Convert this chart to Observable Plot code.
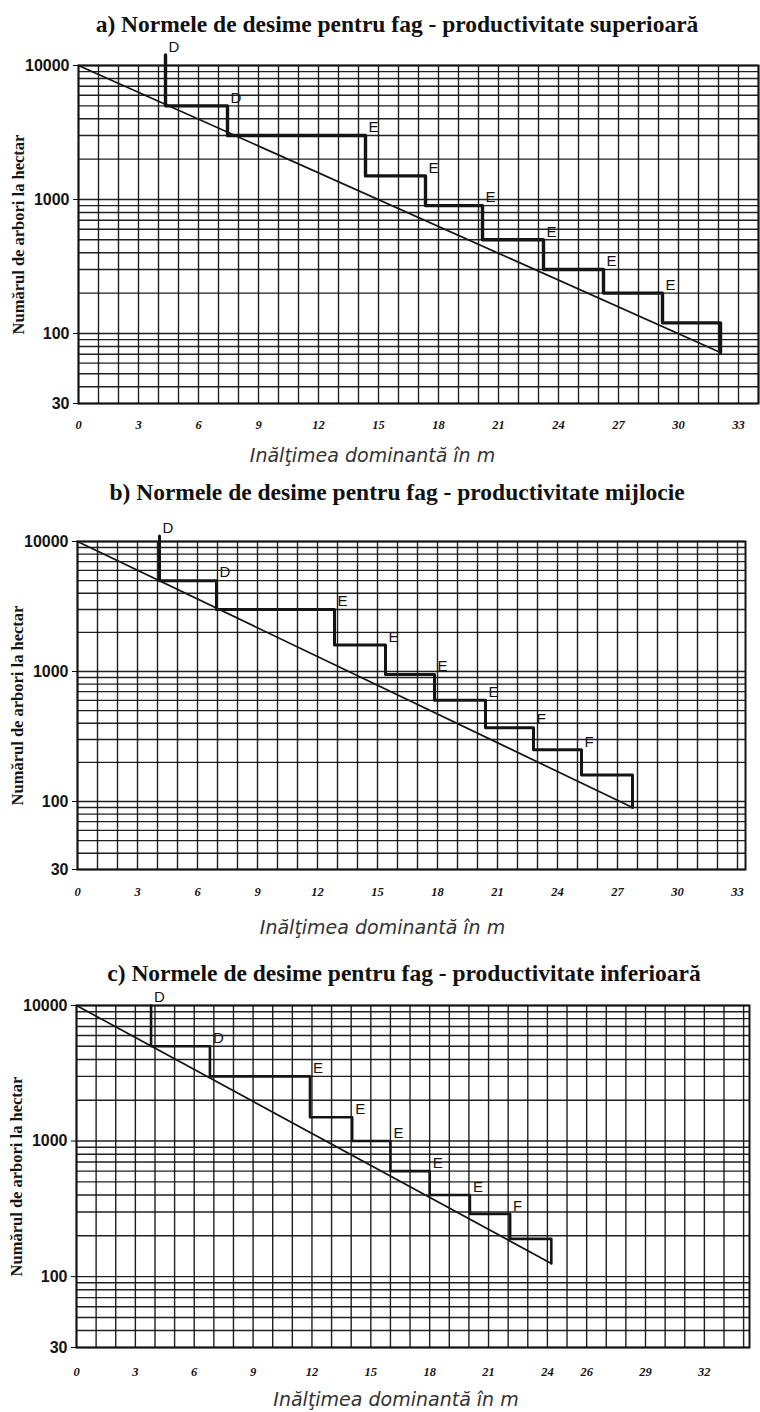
<!DOCTYPE html>
<html><head><meta charset="utf-8">
<script src="https://cdn.jsdelivr.net/npm/d3@7"></script>
<script src="https://cdn.jsdelivr.net/npm/@observablehq/plot@0.6"></script>
<style>
body{margin:0;background:#fff;width:760px;height:1412px;position:relative;overflow:hidden}
.title{position:absolute;width:760px;text-align:center;font-family:"Liberation Serif","Times New Roman",serif;font-weight:bold;font-size:23.5px;line-height:24px;z-index:2;color:#111;white-space:nowrap}
.panel{position:absolute;left:0;z-index:1}
</style></head><body>
<script>
// ---- shared text ----
const yLabel = "Numărul de arbori la hectar";
const xLabel = "Inălţimea dominantă în m";
const yTicks = [30, 100, 1000, 10000];

// ---- panel a: productivitate superioară ----
const titleA = "a) Normele de desime pentru fag - productivitate superioară";
const heightsA = [4.35, 7.45, 14.35, 17.35, 20.2, 23.25, 26.25, 29.2, 32.1];
const densityA = [5000, 3000, 1500, 900, 500, 300, 200, 120, 72];
const topA = 12000;
const lettersA = ["D", "D", "E", "E", "E", "E", "E", "E"];
const xTicksA = [0, 3, 6, 9, 12, 15, 18, 21, 24, 27, 30, 33];

// ---- panel b: productivitate mijlocie ----
const titleB = "b) Normele de desime pentru fag - productivitate mijlocie";
const heightsB = [4.1, 6.95, 12.85, 15.4, 17.85, 20.4, 22.8, 25.2, 27.75];
const densityB = [5000, 3000, 1600, 950, 600, 370, 250, 160, 90];
const topB = 11000;
const lettersB = ["D", "D", "E", "E", "E", "E", "E", "F"];
const xTicksB = [0, 3, 6, 9, 12, 15, 18, 21, 24, 27, 30, 33];

// ---- panel c: productivitate inferioară ----
const titleC = "c) Normele de desime pentru fag - productivitate inferioară";
const heightsC = [3.8, 6.8, 11.9, 14.05, 16.0, 18.0, 20.05, 22.1, 24.2];
const densityC = [5000, 3000, 1500, 1000, 600, 400, 290, 190, 125];
const topC = 10000;
const lettersC = ["D", "D", "E", "E", "E", "E", "E", "F"];
const xTicksC = [0, 3, 6, 9, 12, 15, 18, 21, 24, 26, 29, 32];

const ink = "#141414";
const narrow = "'Liberation Sans Narrow', 'Liberation Sans', sans-serif";

function makePanel(cfg) {
  const {heights, density, top, letters, xTicks} = cfg;
  const steps = [{h: heights[0], n: top}, ...heights.map((h, i) => ({h, n: density[i]}))];
  const labels = letters.map((t, i) => i === 0
    ? {h: heights[0], n: top, t}
    : {h: heights[i], n: density[i - 1], t});
  const diag = [{h: 0, n: 10000}, {h: heights[heights.length - 1], n: density[density.length - 1]}];
  const yGrid = d3.scaleLog().domain([30, 10000]).ticks();
  const xGrid = d3.range(0, Math.floor(cfg.xmax) + 1);
  const plot = Plot.plot({
    width: 760,
    height: cfg.marginTop + cfg.plotH + cfg.marginBottom,
    marginTop: cfg.marginTop, marginBottom: cfg.marginBottom,
    marginLeft: cfg.marginLeft, marginRight: cfg.marginRight,
    style: {background: "transparent", overflow: "visible"},
    x: {domain: [0, cfg.xmax]},
    y: {type: "log", domain: [30, 10000]},
    marks: [
      Plot.gridX(xGrid, {stroke: ink, strokeOpacity: 0.95, strokeWidth: 1.4}),
      Plot.gridY(yGrid, {stroke: ink, strokeOpacity: 0.95, strokeWidth: 1.4}),
      Plot.frame({stroke: ink, strokeWidth: 2}),
      Plot.axisY({ticks: yTicks, tickFormat: d => String(d), label: null, tickSize: 5, tickPadding: 4,
        fontSize: 16, fontWeight: "bold", fontFamily: narrow, fill: ink}),
      Plot.axisX({ticks: xTicks, tickFormat: d => String(d), label: null, tickSize: 0, tickPadding: cfg.tickPad,
        fontSize: 12.5, fontWeight: "bold", fontStyle: "italic", fontFamily: "'Liberation Serif', serif", fill: ink}),
      Plot.line(diag, {x: "h", y: "n", stroke: ink, strokeWidth: 1.7}),
      Plot.line(steps, {x: "h", y: "n", curve: "step-after", stroke: ink, strokeWidth: cfg.stepW}),
      Plot.text(labels, {x: "h", y: "n", text: "t", textAnchor: "start", dx: 3, dy: -8,
        fontSize: 15, fontFamily: narrow, fill: ink}),
      Plot.text([yLabel], {frameAnchor: "left", rotate: -90, dx: -60, textAnchor: "middle",
        fontSize: 16.5, fontWeight: "bold", fontFamily: "'Liberation Serif', serif", fill: ink}),
      Plot.text([xLabel], {frameAnchor: "bottom", dy: cfg.xLabelDy, dx: cfg.xLabelDx, lineAnchor: "middle",
        fontSize: 19, fontStyle: "italic", fontFamily: "'DejaVu Sans', sans-serif", fontWeight: 300, fill: "#333"})
    ]
  });
  plot.classList.add("panel");
  plot.style.top = cfg.svgTop + "px";
  document.body.appendChild(plot);
  const t = document.createElement("div");
  t.className = "title";
  t.style.top = cfg.titleTop + "px";
  t.style.left = cfg.titleShift + "px";
  t.textContent = cfg.title;
  document.body.appendChild(t);
}

makePanel({title: titleA, titleTop: 12, titleShift: 17, heights: heightsA, density: densityA, top: topA, letters: lettersA, xTicks: xTicksA,
  svgTop: 35, marginTop: 30, plotH: 338, marginBottom: 65, marginLeft: 78, marginRight: 2, xmax: 34,
  tickPad: 17, xLabelDy: 52, xLabelDx: -46, stepW: 3.4});
makePanel({title: titleB, titleTop: 480, titleShift: 17, heights: heightsB, density: densityB, top: topB, letters: lettersB, xTicks: xTicksB,
  svgTop: 511, marginTop: 30, plotH: 328, marginBottom: 65, marginLeft: 77, marginRight: 15, xmax: 33.4,
  tickPad: 18, xLabelDy: 58, xLabelDx: -29, stepW: 3});
makePanel({title: titleC, titleTop: 961, titleShift: 24, heights: heightsC, density: densityC, top: topC, letters: lettersC, xTicks: xTicksC,
  svgTop: 975, marginTop: 30, plotH: 342, marginBottom: 65, marginLeft: 76, marginRight: 11, xmax: 34.3,
  tickPad: 20, xLabelDy: 52, xLabelDx: -17, stepW: 2.6});
</script>
</body></html>
